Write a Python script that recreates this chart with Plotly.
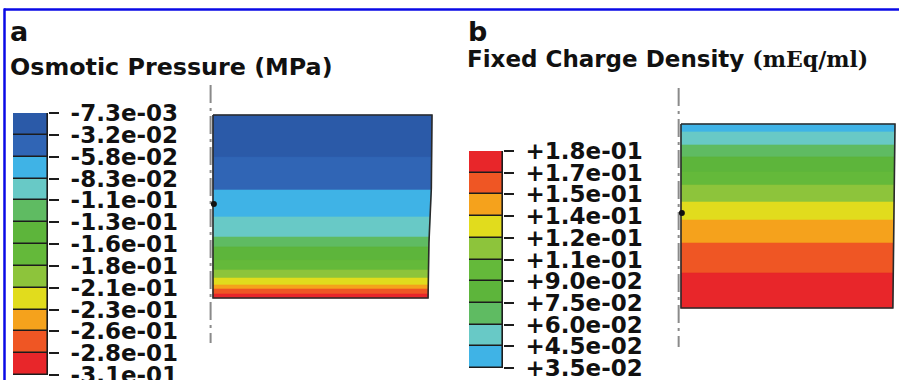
import numpy as np
import plotly.graph_objects as go

W, H = 899, 380

# ---------------- data ----------------
# Panel a: osmotic pressure (MPa), legend levels top -> bottom
osm_levels = ["-7.3e-03", "-3.2e-02", "-5.8e-02", "-8.3e-02", "-1.1e-01", "-1.3e-01",
              "-1.6e-01", "-1.8e-01", "-2.1e-01", "-2.3e-01", "-2.6e-01", "-2.8e-01", "-3.1e-01"]
osm_colors = ["#2b5aa8", "#3065b5", "#3fb3e6", "#68c9c6", "#5fbb62", "#5db53b",
              "#64b93a", "#8dc43b", "#e1dc1d", "#f5a21c", "#ef5624", "#e8262a"]
# contour field: normalized depth (0 = top surface, 1 = bottom) of band edges
osm_field_edges = [0.0, 0.230, 0.410, 0.557, 0.667, 0.721, 0.792, 0.847,
                   0.891, 0.929, 0.951, 0.978, 1.0]
osm_field_band = [0, 1, 2, 3, 4, 5, 6, 7, 8, 9, 10, 11]
# deformed right edge of the sample (depth, lateral position)
osm_edge_depth = [0.0, 0.40, 0.70, 1.0]
osm_edge_x = [1.0, 0.997, 0.986, 0.982]
osm_node_depth = 0.486

# Panel b: fixed charge density (mEq/ml), legend levels top -> bottom
fcd_levels = ["+1.8e-01", "+1.7e-01", "+1.5e-01", "+1.4e-01", "+1.2e-01", "+1.1e-01",
              "+9.0e-02", "+7.5e-02", "+6.0e-02", "+4.5e-02", "+3.5e-02"]
fcd_colors = ["#e8262a", "#ef5624", "#f5a21c", "#e1dc1d", "#8dc43b", "#64b93a",
              "#5db53b", "#5fbb62", "#68c9c6", "#3fb3e6"]
fcd_field_edges = [0.0, 0.043, 0.114, 0.179, 0.261, 0.332, 0.424, 0.522, 0.647, 0.810, 1.0]
fcd_field_band = [9, 8, 7, 6, 5, 4, 3, 2, 1, 0]
fcd_edge_depth = [0.0, 1.0]
fcd_edge_x = [1.0, 0.99]
fcd_node_depth = 0.484

# ---------------- helpers ----------------
def dom_x(l, r):
    return [l / W, r / W]

def dom_y(top, bot):
    return [1 - bot / H, 1 - top / H]

def rng(p_lo, p_hi, p0, p1):
    return [(p_lo - p0) / (p1 - p0), (p_hi - p0) / (p1 - p0)]

INK = "#1c1c1c"
TICKFONT = dict(family="DejaVu Sans", size=23, color="#111", weight="bold")

fig = go.Figure()


def add_colorbar(levels, colors, xa, ya, xdom, ydom):
    n = len(colors)
    cols_bt = colors[::-1]
    fig.add_trace(go.Bar(
        x=[0.5] * n, y=[1] * n, base=list(range(n)), width=1,
        marker=dict(color=cols_bt, line=dict(color=INK, width=1.6)),
        xaxis=xa, yaxis=ya, cliponaxis=False, hoverinfo="skip"))
    xk = "xaxis" + xa[1:]
    yk = "yaxis" + ya[1:]
    fig.update_layout(**{
        xk: dict(domain=xdom, range=[0, 1], visible=False, anchor=ya, fixedrange=True,
                 automargin=False),
        yk: dict(domain=ydom, range=[0, n], anchor=xa, side="right",
                 tickmode="array", tickvals=list(range(n + 1)),
                 ticktext=levels[::-1], ticks="outside", ticklen=10, tickwidth=1.6,
                 tickcolor=INK, showgrid=False, zeroline=False, showline=False,
                 tickfont=TICKFONT, ticklabelstandoff=7, fixedrange=True,
                 automargin=False, ticklabeloverflow="allow"),
    })


def add_field(edges, bands, colors, edge_depth, edge_x, node_depth,
              xa, ya, xdom, xr, ydom, yr, dash_ext):
    for i, b in enumerate(bands):
        d0, d1 = edges[i], edges[i + 1]
        x0 = float(np.interp(d0, edge_depth, edge_x))
        x1 = float(np.interp(d1, edge_depth, edge_x))
        y0, y1 = 1 - d0, 1 - d1
        fig.add_trace(go.Scatter(
            x=[0, x0, x1, 0, 0], y=[y0, y0, y1, y1, y0], mode="lines",
            fill="toself", fillcolor=colors[b], line=dict(color=colors[b], width=0.6),
            xaxis=xa, yaxis=ya, hoverinfo="skip", cliponaxis=False))
    # outline
    ox = [0] + list(edge_x) + [0, 0]
    oy = [1] + [1 - d for d in edge_depth] + [0, 1]
    fig.add_trace(go.Scatter(x=ox, y=oy, mode="lines", line=dict(color="#2a2a2a", width=1.6),
                             xaxis=xa, yaxis=ya, hoverinfo="skip", cliponaxis=False))
    # symmetry axis (dash-dot)
    fig.add_trace(go.Scatter(x=[-0.011, -0.011], y=[1 + dash_ext[0], -dash_ext[1]], mode="lines",
                             line=dict(color="#8a8a8a", width=2, dash="18px,5px,3px,5px"),
                             xaxis=xa, yaxis=ya, hoverinfo="skip", cliponaxis=False))
    # reference node
    fig.add_trace(go.Scatter(x=[0.004], y=[1 - node_depth], mode="markers",
                             marker=dict(color="#111", size=6),
                             xaxis=xa, yaxis=ya, hoverinfo="skip", cliponaxis=False))
    xk = "xaxis" + xa[1:]
    yk = "yaxis" + ya[1:]
    fig.update_layout(**{
        xk: dict(domain=xdom, range=xr, visible=False, anchor=ya, fixedrange=True,
                 automargin=False),
        yk: dict(domain=ydom, range=yr, visible=False, anchor=xa, fixedrange=True,
                 automargin=False),
    })


# panel a colorbar
add_colorbar(osm_levels, osm_colors, "x", "y", dom_x(13, 48), dom_y(113, 375))
# panel a field: x=0 at px 213, x=1 at px 432 ; y=1 at px 115, y=0 at px 298
add_field(osm_field_edges, osm_field_band, osm_colors, osm_edge_depth, osm_edge_x,
          osm_node_depth, "x2", "y2",
          dom_x(200, 440), rng(200, 440, 213, 432),
          dom_y(80, 350), [(350 - 298) / (115 - 298), (80 - 298) / (115 - 298)],
          (0.164, 0.246))
# panel b colorbar
add_colorbar(fcd_levels, fcd_colors, "x3", "y3", dom_x(469, 503), dom_y(151, 368))
# panel b field: x=0 at px 681, x=1 at px 895 ; y=1 at px 124, y=0 at px 308
add_field(fcd_field_edges, fcd_field_band, fcd_colors, fcd_edge_depth, fcd_edge_x,
          fcd_node_depth, "x4", "y4",
          dom_x(670, 899), rng(670, 899, 681, 895),
          dom_y(80, 355), [(355 - 308) / (124 - 308), (80 - 308) / (124 - 308)],
          (0.196, 0.212))

SANS_B = dict(family="DejaVu Sans", color="#111", weight="bold")
annots = [
    dict(text="a", x=8 / W, y=1 - 31 / H, font=dict(size=27, **SANS_B)),
    dict(text="Osmotic Pressure (MPa)", x=8 / W, y=1 - 67 / H, font=dict(size=23.8, **SANS_B)),
    dict(text="b", x=466 / W, y=1 - 31 / H, font=dict(size=27, **SANS_B)),
    dict(text="Fixed Charge Density <span style='font-family:DejaVu Serif;font-size:22px'>(mEq/ml)</span>",
         x=465 / W, y=1 - 59 / H, font=dict(size=23, **SANS_B)),
]
for a in annots:
    fig.add_annotation(xref="paper", yref="paper", xanchor="left", yanchor="middle",
                       showarrow=False, **a)

# blue frame
fig.add_shape(type="line", xref="paper", yref="paper", x0=4 / W, x1=1, y0=1 - 9.5 / H, y1=1 - 9.5 / H,
              line=dict(color="#0a0ae6", width=2.5))
fig.add_shape(type="line", xref="paper", yref="paper", x0=4.5 / W, x1=4.5 / W, y0=0, y1=1 - 8.5 / H,
              line=dict(color="#0a0ae6", width=2.5))

fig.update_layout(template="none", width=W, height=H, margin=dict(l=0, r=0, t=0, b=0),
                  paper_bgcolor="white", plot_bgcolor="rgba(0,0,0,0)",
                  showlegend=False, bargap=0)

fig.write_html("out.html", config={"displayModeBar": False},
               post_script="document.body.style.margin='0';document.body.style.overflow='hidden';")
